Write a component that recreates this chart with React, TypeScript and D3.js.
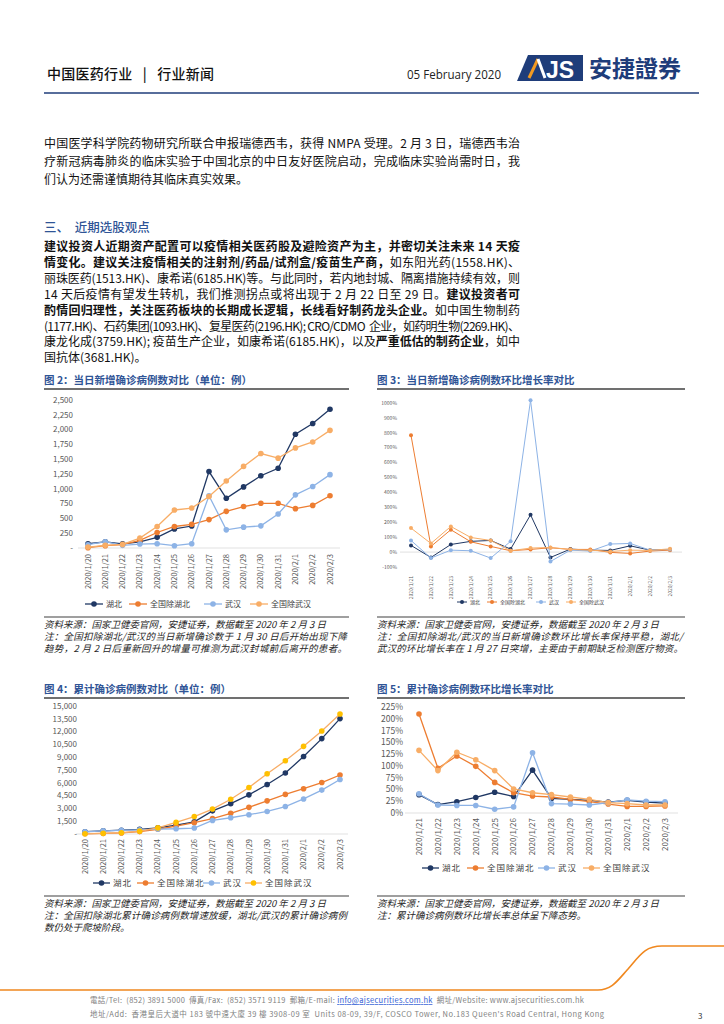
import React from 'react';
import * as d3 from 'd3';

const FONT = '"Noto Sans CJK SC", "Noto Sans", sans-serif';

const SERIES = ['湖北', '全国除湖北', '武汉', '全国除武汉'];
const DATES_A = ['2020/1/20', '2020/1/21', '2020/1/22', '2020/1/23', '2020/1/24', '2020/1/25', '2020/1/26', '2020/1/27',
  '2020/1/28', '2020/1/29', '2020/1/30', '2020/1/31', '2020/2/1', '2020/2/2', '2020/2/3'];
const DATES_B = ['2020/1/21', '2020/1/22', '2020/1/23', '2020/1/24', '2020/1/25', '2020/1/26', '2020/1/27',
  '2020/1/28', '2020/1/29', '2020/1/30', '2020/1/31', '2020/2/1', '2020/2/2', '2020/2/3'];

// fig 2: daily new cases
const dailyHubei = [72, 105, 69, 105, 180, 323, 371, 1291, 840, 1032, 1220, 1347, 1921, 2103, 2345];
const dailyExHubei = [5, 40, 56, 128, 262, 363, 400, 480, 619, 700, 755, 755, 665, 720, 882];
const dailyWuhan = [56, 106, 45, 67, 73, 39, 73, 882, 307, 352, 374, 575, 898, 1038, 1239];
const dailyExWuhan = [16, 45, 61, 167, 363, 642, 675, 871, 1133, 1378, 1596, 1518, 1691, 1791, 1987];

// fig 3: daily growth (%)
const dgHubei = [45, -36, 51, 72, 78, 20, 250, -36, 20, 13, 11, 42, 13, 18];
const dgExHubei = [783, 38, 150, 69, 38, 9, 18, 29, 18, 18, -2, -9, 7, 13];
const dgWuhan = [78, -40, 13, 9, -40, 72, 1018, -63, 13, 7, 54, 58, 13, 18];
const dgExWuhan = [161, 58, 172, 98, 78, 9, 27, 31, 18, 13, 4, 13, 11, 22];

// fig 4: cumulative cases
const cumHubei = [270, 375, 444, 549, 729, 1052, 1423, 2714, 3554, 4586, 5806, 7153, 9074, 11177, 13522];
const cumExHubei = [21, 65, 127, 281, 558, 923, 1321, 1801, 2420, 3125, 3886, 4638, 5306, 6028, 6916];
const cumWuhan = [258, 363, 425, 495, 572, 618, 698, 1590, 1905, 2261, 2639, 3215, 4109, 5142, 6384];
const cumExWuhan = [33, 77, 146, 335, 715, 1357, 2046, 2925, 4069, 5450, 7053, 8576, 10271, 12063, 14054];

// fig 5: cumulative growth (%)
const cgHubei = [39, 18, 24, 33, 44, 35, 91, 31, 29, 27, 23, 27, 23, 21];
const cgExHubei = [210, 95, 121, 99, 65, 43, 36, 34, 29, 24, 19, 14, 14, 15];
const cgWuhan = [41, 17, 16, 16, 8, 13, 128, 20, 19, 17, 22, 28, 25, 24];
const cgExWuhan = [133, 90, 129, 113, 90, 51, 43, 39, 34, 29, 22, 20, 17, 17];

const TICKS_DAILY = d3.range(0, 2501, 250);
const TICKS_DG = d3.range(-100, 1001, 100);
const TICKS_CUM = d3.range(0, 15001, 1500);
const TICKS_CG = d3.range(0, 226, 25);

const C_NAVY = '#203864';
const C_ORANGE = '#ed7d31';
const C_LBLUE = '#8db3e6';
const C_LORANGE = '#f8ad66';
const C_GOLD = '#ffc000';

const fmtCount = (v: number) => (v === 0 ? '-' : d3.format(',')(v));
const fmtPct = (v: number) => `${v}%`;

type Seg = [string, boolean];

const para1: string[] = [
  '中国医学科学院药物研究所联合申报瑞德西韦，获得 NMPA 受理。2 月 3 日，瑞德西韦治',
  '疗新冠病毒肺炎的临床实验于中国北京的中日友好医院启动，完成临床实验尚需时日，我',
  '们认为还需谨慎期待其临床真实效果。',
];

const para2: Seg[][] = [
  [['建议投资人近期资产配置可以疫情相关医药股及避险资产为主，并密切关注未来 14 天疫', true]],
  [['情变化。建议关注疫情相关的注射剂/药品/试剂盒/疫苗生产商，', true], ['如东阳光药(1558.HK)、', false]],
  [['丽珠医药(1513.HK)、康希诺(6185.HK)等。与此同时，若内地封城、隔离措施持续有效，则', false]],
  [['14 天后疫情有望发生转机，我们推测拐点或将出现于 2 月 22 日至 29 日。', false], ['建议投资者可', true]],
  [['酌情回归理性，关注医药板块的长期成长逻辑，长线看好制药龙头企业。', true], ['如中国生物制药', false]],
  [['(1177.HK)、石药集团(1093.HK)、复星医药(2196.HK); CRO/CDMO  企业，如药明生物(2269.HK)、', false]],
  [['康龙化成(3759.HK); 疫苗生产企业，如康希诺(6185.HK)，以及', false], ['严重低估的制药企业', true], ['，如中', false]],
  [['国抗体(3681.HK)。', false]],
];

const SOURCE = '资料来源：国家卫健委官网，安捷证券，数据截至 2020 年 2 月 3 日';

interface Series { name: string; values: number[]; color: string; marker?: string }

interface ChartProps {
  dates: string[];
  series: Series[];
  yDomain: [number, number];
  yTicks: number[];
  yFmt: (v: number) => string;
  xRange: [number, number];
  yRange: [number, number];
  axis: [number, number];
  yLabelX: number;
  yFont: number;
  xLabelY: number;
  xFont: number;
  r: number;
  sw: number;
  legendY: number;
  legendX: number[];
  legendLen: number;
  legendFont: number;
  legendSpacing?: number;
}

function LineChart(p: ChartProps) {
  const x = d3.scalePoint<string>().domain(p.dates).range(p.xRange);
  const y = d3.scaleLinear().domain(p.yDomain).range(p.yRange);
  const line = d3.line<number>().x((_, i) => x(p.dates[i]) as number).y(d => y(d));
  return (
    <g fontFamily={FONT}>
      <line x1={p.axis[0]} x2={p.axis[1]} y1={y(0)} y2={y(0)} stroke="#d9d9d9" strokeWidth={0.8} />
      {p.yTicks.map(t => (
        <text key={t} x={p.yLabelX} y={y(t)} dy="0.35em" textAnchor="end" fontSize={p.yFont} fill="#595959">
          {p.yFmt(t)}
        </text>
      ))}
      {p.dates.map(d => (
        <text key={d} transform={`translate(${x(d)},${p.xLabelY}) rotate(-90)`} dy="0.35em" textAnchor="end"
          fontSize={p.xFont} fill="#595959">{d}</text>
      ))}
      {p.series.map(s => (
        <g key={s.name}>
          <path d={line(s.values) || ''} fill="none" stroke={s.color} strokeWidth={p.sw} />
          {s.values.map((v, i) => (
            <circle key={i} cx={x(p.dates[i])} cy={y(v)} r={p.r} fill={s.marker || s.color} />
          ))}
        </g>
      ))}
      {p.series.map((s, i) => (
        <g key={'lg' + s.name}>
          <line x1={p.legendX[i]} x2={p.legendX[i] + p.legendLen} y1={p.legendY} y2={p.legendY} stroke={s.color} strokeWidth={p.sw} />
          <circle cx={p.legendX[i] + p.legendLen / 2} cy={p.legendY} r={p.r} fill={s.marker || s.color} />
          <text x={p.legendX[i] + p.legendLen + 3} y={p.legendY} dy="0.35em" fontSize={p.legendFont} fill="#404040"
            letterSpacing={p.legendSpacing || 0}>{s.name}</text>
        </g>
      ))}
    </g>
  );
}

function Caption({ x, y, w, title, sepY, lines }: { x: number; y: number; w: number; title: string; sepY: number; lines: [string, boolean][] }) {
  return (
    <g fontFamily={FONT}>
      <text x={x} y={y} fontSize={10.5} fontWeight={700} fill="#2f5496">{title}</text>
      <line x1={x} x2={x + w} y1={y + 5} y2={y + 5} stroke="#404040" strokeWidth={1.5} />
      <line x1={x} x2={x + w} y1={sepY} y2={sepY} stroke="#7f7f7f" strokeWidth={1.5} />
      {lines.map(([t, justify], i) => (
        <text key={i} x={x} y={sepY + 11 + i * 12} fontSize={9.5} fontStyle="italic" fill="#262626"
          {...(justify ? { textLength: w - 2, lengthAdjust: 'spacing' } : {})}>{t}</text>
      ))}
    </g>
  );
}

export default function App() {
  const dailySeries: Series[] = [
    { name: SERIES[0], values: dailyHubei, color: C_NAVY },
    { name: SERIES[1], values: dailyExHubei, color: C_ORANGE },
    { name: SERIES[2], values: dailyWuhan, color: C_LBLUE },
    { name: SERIES[3], values: dailyExWuhan, color: C_LORANGE },
  ];
  const dgSeries: Series[] = [
    { name: SERIES[0], values: dgHubei, color: C_NAVY },
    { name: SERIES[1], values: dgExHubei, color: C_ORANGE },
    { name: SERIES[2], values: dgWuhan, color: C_LBLUE },
    { name: SERIES[3], values: dgExWuhan, color: C_LORANGE },
  ];
  const cumSeries: Series[] = [
    { name: SERIES[0], values: cumHubei, color: C_NAVY },
    { name: SERIES[1], values: cumExHubei, color: C_ORANGE },
    { name: SERIES[2], values: cumWuhan, color: C_LBLUE },
    { name: SERIES[3], values: cumExWuhan, color: C_LORANGE, marker: C_GOLD },
  ];
  const cgSeries: Series[] = [
    { name: SERIES[0], values: cgHubei, color: C_NAVY },
    { name: SERIES[1], values: cgExHubei, color: C_ORANGE },
    { name: SERIES[2], values: cgWuhan, color: C_LBLUE },
    { name: SERIES[3], values: cgExWuhan, color: C_LORANGE },
  ];

  const pre = { whiteSpace: 'pre' as const };

  return (
    <svg width={724} height={1024} style={{ position: 'absolute', left: 0, top: 0, background: '#fff' }} fontFamily={FONT}>
      {/* header */}
      <text x={47} y={79} fontSize={14} fontWeight={500} fill="#111" style={pre} textLength={167} lengthAdjust="spacing">中国医药行业   |   行业新闻</text>
      <text x={407} y={79} fontSize={12} fill="#222" fontFamily='"Open Sans", sans-serif' textLength={94} lengthAdjust="spacingAndGlyphs">05 February 2020</text>
      <polygon points="517,81 528,55 583,55 583,81" fill="#1f3d7a" />
      <line x1={529} y1={78} x2={538} y2={59} stroke="#f39a21" strokeWidth={3} />
      <line x1={538} y1={59} x2={545} y2={78} stroke="#fff" strokeWidth={3} />
      <text x={546} y={78} fontSize={23} fontWeight={700} fill="#fff" fontFamily='"Liberation Sans", sans-serif'>JS</text>
      <text x={589} y={77} fontSize={23} fontWeight={700} fill="#1f3d7a">安捷證券</text>
      <line x1={44} x2={699} y1={93} y2={93} stroke="#1f3d7a" strokeWidth={1.5} />

      {/* body text */}
      {para1.map((t, i) => (
        <text key={i} x={44} y={148 + i * 18} fontSize={12} fill="#111"
          {...(i < para1.length - 1 ? { textLength: 476, lengthAdjust: 'spacing' } : {})}>{t}</text>
      ))}
      <text x={44} y={232} fontSize={12.5} fontWeight={500} fill="#2f5496" style={pre}>三、  近期选股观点</text>
      {para2.map((segs, i) => (
        <text key={i} x={44} y={251 + i * 15.9} fontSize={12} fill="#111" style={pre}
          {...(i < para2.length - 1 ? { textLength: 476, lengthAdjust: 'spacing' } : {})}>
          {segs.map(([t, b], j) => <tspan key={j} fontWeight={b ? 700 : 400}>{t}</tspan>)}
        </text>
      ))}

      {/* figure 2 */}
      <Caption x={44} y={384} w={305} title="图 2：当日新增确诊病例数对比（单位：例）" sepY={617}
        lines={[[SOURCE, false], ['注：全国扣除湖北/武汉的当日新增确诊数于 1 月 30 日后开始出现下降', true],
          ['趋势，2 月 2 日后重新回升的增量可推测为武汉封城前后离开的患者。', true]]} />
      <LineChart dates={DATES_A} series={dailySeries} yDomain={[0, 2500]} yTicks={TICKS_DAILY} yFmt={fmtCount}
        xRange={[88, 330]} yRange={[548, 400]} axis={[78, 340]} yLabelX={73} yFont={8} xLabelY={554} xFont={7.5}
        r={2.8} sw={1.3} legendY={604} legendX={[85, 129, 204, 250]} legendLen={18} legendFont={8} />

      {/* figure 3 */}
      <Caption x={377} y={384} w={308} title="图 3：当日新增确诊病例数环比增长率对比" sepY={617}
        lines={[[SOURCE, false], ['注：全国扣除湖北/武汉的当日新增确诊数环比增长率保持平稳，湖北/', true],
          ['武汉的环比增长率在 1 月 27 日突增，主要由于前期缺乏检测医疗物资。', true]]} />
      <LineChart dates={DATES_B} series={dgSeries} yDomain={[-100, 1000]} yTicks={TICKS_DG} yFmt={fmtPct}
        xRange={[411, 670]} yRange={[567, 403]} axis={[400, 682]} yLabelX={397} yFont={5} xLabelY={576} xFont={5}
        r={2} sw={1} legendY={602} legendX={[457, 487, 536, 566]} legendLen={10} legendFont={5} />

      {/* figure 4 */}
      <Caption x={44} y={693} w={305} title="图 4：累计确诊病例数对比（单位：例）" sepY={896}
        lines={[[SOURCE, false], ['注：全国扣除湖北累计确诊病例数增速放缓，湖北/武汉的累计确诊病例', true],
          ['数仍处于爬坡阶段。', false]]} />
      <LineChart dates={DATES_A} series={cumSeries} yDomain={[0, 15000]} yTicks={TICKS_CUM} yFmt={fmtCount}
        xRange={[85, 340]} yRange={[834, 706]} axis={[76, 348]} yLabelX={77} yFont={8} xLabelY={839} xFont={7.5}
        r={2.8} sw={1.3} legendY={883} legendX={[93, 137, 203, 245]} legendLen={17} legendFont={8.5} legendSpacing={1} />

      {/* figure 5 */}
      <Caption x={377} y={693} w={308} title="图 5：累计确诊病例数环比增长率对比" sepY={896}
        lines={[[SOURCE, false], ['注：累计确诊病例数环比增长率总体呈下降态势。', false]]} />
      <LineChart dates={DATES_B} series={cgSeries} yDomain={[0, 225]} yTicks={TICKS_CG} yFmt={fmtPct}
        xRange={[419, 665]} yRange={[813, 707]} axis={[405, 678]} yLabelX={403} yFont={8.5} xLabelY={818} xFont={8}
        r={2.8} sw={1.3} legendY={868} legendX={[422, 467, 538, 583]} legendLen={17} legendFont={8.5} legendSpacing={1} />

      {/* footer */}
      <path d="M0,990 L598,990 C612,990 618,980 628,969 C640,955 645,946 662,946 L724,946" fill="none" stroke="#f0881f" strokeWidth={1.6} />
      <text x={90} y={1003} fontSize={7.5} fill="#7f7f7f" style={pre} textLength={494} lengthAdjust="spacing">
        電話/Tel:  (852) 3891 5000  傳真/Fax:  (852) 3571 9119  郵箱/E-mail: <tspan fill="#2f5bd3" textDecoration="underline">info@ajsecurities.com.hk</tspan>  網址/Website: www.ajsecurities.com.hk
      </text>
      <text x={90} y={1017} fontSize={7.5} fill="#7f7f7f" style={pre} textLength={514} lengthAdjust="spacing">
        地址/Add:  香港皇后大道中 183 號中遠大廈 39 樓 3908-09 室  Units 08-09, 39/F, COSCO Tower, No.183 Queen's Road Central, Hong Kong
      </text>
      <text x={698} y={1019} fontSize={8} fill="#333">3</text>
    </svg>
  );
}
